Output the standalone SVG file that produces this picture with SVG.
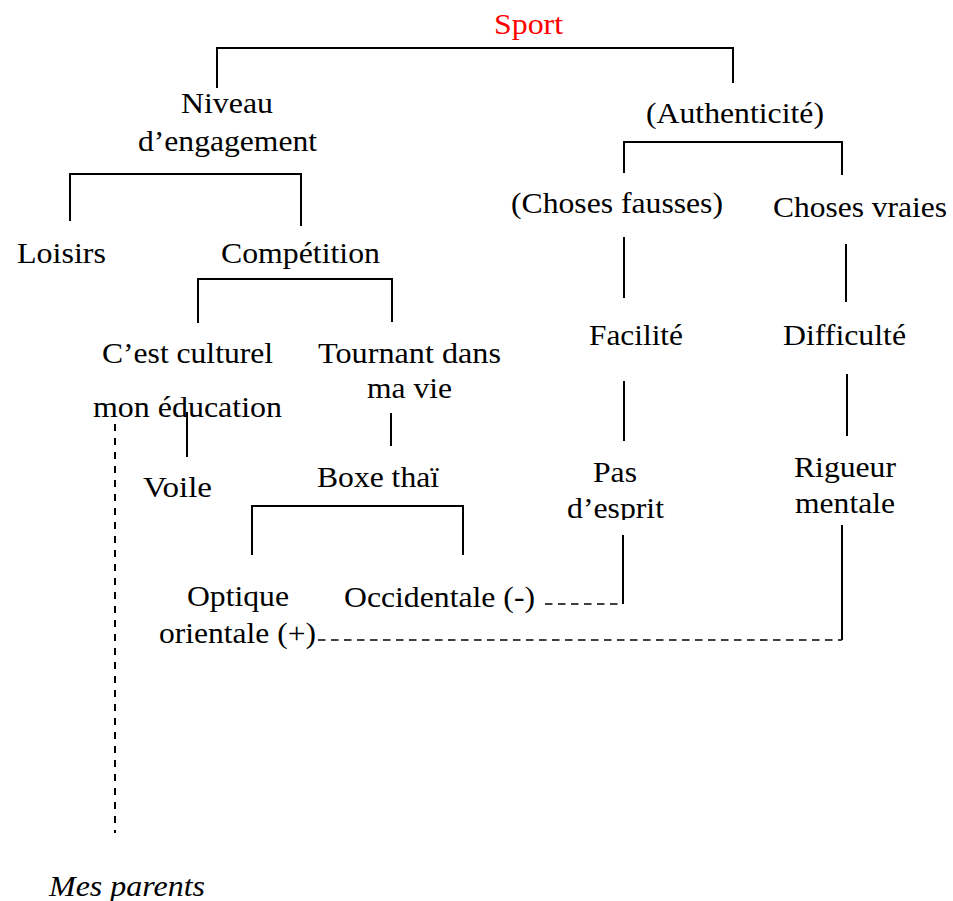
<svg xmlns="http://www.w3.org/2000/svg" width="953" height="901" viewBox="0 0 953 901">
<style>
text{font-family:"Liberation Serif",LiberationSerif,Tinos,"Times New Roman",Times,"Nimbus Roman","Nimbus Roman No9 L",FreeSerif,serif;font-size:30px;fill:#000;text-anchor:middle}
.red{fill:#ff0000}
.it{font-style:italic;text-anchor:start}
.ln{fill:none;stroke:#000;stroke-width:2}
.dv{fill:none;stroke:#000;stroke-width:2;stroke-dasharray:7 7}
.dh{fill:none;stroke:#000;stroke-width:1.6;stroke-dasharray:7.5 5.5}
</style>
<defs>
<clipPath id="clipEsprit"><rect x="540" y="490" width="150" height="30"/></clipPath>
</defs>
<rect width="953" height="901" fill="#fff"/>
<g id="connectors">
<path class="ln" d="M217,88 V48 H733 V83"/>
<path class="ln" d="M70,221 V174 H301 V226"/>
<path class="ln" d="M198,323 V279 H392 V322"/>
<path class="ln" d="M624,173 V142 H842 V175"/>
<path class="ln" d="M624,237 V298"/>
<path class="ln" d="M846,244 V302"/>
<path class="ln" d="M624,381 V441"/>
<path class="ln" d="M847,374 V436"/>
<path class="ln" d="M187,412 V457"/>
<path class="ln" d="M391,413 V446"/>
<path class="ln" d="M252,555 V506 H463 V555"/>
<path class="ln" d="M623,535 V604"/>
<path class="dh" d="M545,604 H623"/>
<path class="ln" d="M842,525 V640"/>
<path class="dh" d="M318,640 H842"/>
<path class="dv" d="M115,424 V833"/>
</g>
<g id="sport"><text class="red" x="528.5" y="34" textLength="69" lengthAdjust="spacingAndGlyphs">Sport</text></g>
<g id="niveau">
<text x="227" y="113" textLength="92" lengthAdjust="spacingAndGlyphs">Niveau</text>
<text x="227.5" y="151" textLength="179" lengthAdjust="spacingAndGlyphs">d’engagement</text>
</g>
<g id="loisirs"><text x="61.5" y="263" textLength="89" lengthAdjust="spacingAndGlyphs">Loisirs</text></g>
<g id="competition"><text x="300.5" y="263" textLength="159" lengthAdjust="spacingAndGlyphs">Compétition</text></g>
<g id="authenticite"><text x="735" y="123" textLength="178" lengthAdjust="spacingAndGlyphs">(Authenticité)</text></g>
<g id="choses-fausses"><text x="617" y="213" textLength="212" lengthAdjust="spacingAndGlyphs">(Choses fausses)</text></g>
<g id="choses-vraies"><text x="860" y="217" textLength="174" lengthAdjust="spacingAndGlyphs">Choses vraies</text></g>
<g id="culturel">
<text x="187.5" y="363" textLength="171" lengthAdjust="spacingAndGlyphs">C’est culturel</text>
<text x="187.5" y="417" textLength="189" lengthAdjust="spacingAndGlyphs">mon éducation</text>
</g>
<g id="tournant">
<text x="409.5" y="363" textLength="183" lengthAdjust="spacingAndGlyphs">Tournant dans</text>
<text x="409.5" y="398" textLength="85" lengthAdjust="spacingAndGlyphs">ma vie</text>
</g>
<g id="voile"><text x="177.5" y="497" textLength="69" lengthAdjust="spacingAndGlyphs">Voile</text></g>
<g id="boxe"><text x="378" y="487" textLength="122" lengthAdjust="spacingAndGlyphs">Boxe thaï</text></g>
<g id="facilite"><text x="636" y="345" textLength="94" lengthAdjust="spacingAndGlyphs">Facilité</text></g>
<g id="difficulte"><text x="844.5" y="345" textLength="123" lengthAdjust="spacingAndGlyphs">Difficulté</text></g>
<g id="pas-esprit">
<text x="615" y="482" textLength="44" lengthAdjust="spacingAndGlyphs">Pas</text>
<text x="615.5" y="518" textLength="97" lengthAdjust="spacingAndGlyphs" clip-path="url(#clipEsprit)">d’esprit</text>
</g>
<g id="rigueur">
<text x="845" y="477" textLength="102" lengthAdjust="spacingAndGlyphs">Rigueur</text>
<text x="845" y="513" textLength="100" lengthAdjust="spacingAndGlyphs">mentale</text>
</g>
<g id="optique">
<text x="238" y="606" textLength="102" lengthAdjust="spacingAndGlyphs">Optique</text>
<text x="237.5" y="643" textLength="157" lengthAdjust="spacingAndGlyphs">orientale (+)</text>
</g>
<g id="occidentale"><text x="439.5" y="607" textLength="191" lengthAdjust="spacingAndGlyphs">Occidentale (-)</text></g>
<g id="parents"><text class="it" x="49" y="896" textLength="156" lengthAdjust="spacingAndGlyphs">Mes parents</text></g>
</svg>
